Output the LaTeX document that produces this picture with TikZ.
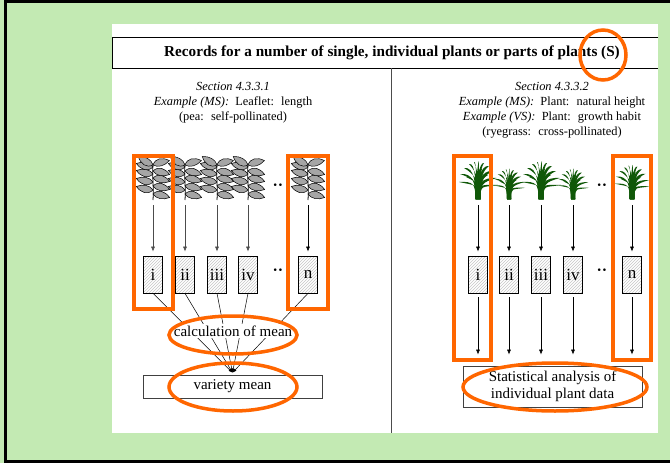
\documentclass[tikz,border=0pt]{standalone}
\usepackage{fontspec}
\setmainfont{Liberation Serif}
\usetikzlibrary{arrows.meta,patterns}
\definecolor{bggreen}{RGB}{195,234,179}
\definecolor{hiorange}{RGB}{255,102,0}
\definecolor{grassgreen}{RGB}{16,88,8}
\definecolor{peagray}{RGB}{165,165,165}
\tikzset{
  leaf/.pic={\draw[fill=peagray, line width=0.5pt] (0,0) .. controls (4,-6) and (11,-5.5) .. (17,0) .. controls (11,4) and (4,4) .. (0,0) -- cycle;},
  pea/.pic={
    \draw[line width=0.8pt] (0,0) .. controls (1,-12) and (-1,-24) .. (0,-36);
    \foreach \yy in {-10,-18,-26,-33} {
      \pic[rotate=168] at (0,\yy) {leaf};
      \pic[rotate=-12] at (0,\yy+4) {leaf};
    }
    \pic[rotate=150] at (0,-35) {leaf};
    \pic[rotate=15] at (0,-35) {leaf};
  },
  grass/.pic={
    \foreach \tx/\ty in {-19/-17,-18/-25,-14/-31,-9/-35,-4/-37,1/-38,6/-36,11/-33,15/-28,19/-21,20/-14,-12/-22,10/-24,-2/-28,4/-30} {
      \fill[grassgreen] (-2.5,0) .. controls (-2.5,-15) and (\tx*0.25,\ty*1.05) .. (\tx,\ty)
        .. controls (\tx*0.2,\ty*0.8) and (2.5,-15) .. (2.5,0) -- cycle;
    }
  },
  hbox/.style={draw, line width=0.7pt, preaction={fill=white}, pattern=north east lines, pattern color=gray!45,
    minimum width=19pt, minimum height=37pt, inner sep=0pt, font=\fontsize{17}{17}\selectfont},
  arr/.style={-{Latex[length=5pt,width=4pt]}, line width=0.6pt},
  conv/.style={-{Latex[length=4pt,width=3pt]}, line width=0.5pt},
  hirect/.style={draw=hiorange, line width=4pt},
  hiell/.style={draw=hiorange, line width=3.5pt},
  bodytext/.style={font=\fontsize{12.4}{15}\selectfont, align=center, inner sep=0pt},
  bigtext/.style={font=\fontsize{15}{17}\selectfont, align=center},
  dotstext/.style={font=\fontsize{16}{16}\selectfont\bfseries, inner sep=0pt}
}
\begin{document}
\begin{tikzpicture}[x=1pt,y=-1pt]
\useasboundingbox (0,0) rectangle (670,463);
\fill[bggreen] (0,0) rectangle (670,463);
\draw[line width=3pt] (673,1.5) -- (5,1.5) -- (5,461.5) -- (673,461.5);
\fill[white] (112,24) rectangle (658,433);
% title box
\draw[line width=1pt] (658,37) -- (112,37) -- (112,68) -- (658,68);
\node[font=\fontsize{15.2}{17}\selectfont\bfseries, inner sep=0pt] (title) at (392,53) {Records for a number of single, individual plants or parts of plants (S)};
\draw[line width=1pt, black!70] (391,68) -- (391,433);
% section texts
\node[bodytext] (secL) at (233,103) {\textit{Section 4.3.3.1}\\ \textit{Example (MS):}~ Leaflet:~ length\\ (pea:~ self-pollinated)};
\node[bodytext] (secR) at (552,110.5) {\textit{Section 4.3.3.2}\\ \textit{Example (MS):}~ Plant:~ natural height\\ \textit{Example (VS):}~ Plant:~ growth habit\\ (ryegrass:~ cross-pollinated)};
% left plants
\foreach \n/\x in {1/153,2/185,3/217,4/248,5/308} {
  \pic at (\x,200) {pea};
  \coordinate (tL\n) at (\x,205);
}
\node[dotstext] (dL1) at (278,187) {··};
% left boxes
\node[hbox] (bL1) at (153,274.5) {i};
\node[hbox] (bL2) at (185,274.5) {ii};
\node[hbox] (bL3) at (217,274.5) {iii};
\node[hbox] (bL4) at (248,274.5) {iv};
\node[hbox] (bL5) at (308,274.5) {n};
\node[dotstext] (dL2) at (278,272) {··};
\foreach \n in {1,2,3,4} { \draw[arr, black!70] (tL\n) -- ([yshift=4pt]bL\n.north); }
\draw[arr] (tL5) -- ([yshift=4pt]bL5.north);
% variety mean
\node[draw, line width=0.7pt, black!75, text=black, minimum width=179pt, minimum height=23pt, bigtext] (vm) at (232.5,386.5) {variety mean};
\foreach \n in {1,2,3,4,5} { \draw[conv] (bL\n.south) -- ([yshift=2pt]vm.north); }
\node[bigtext, fill=white, inner sep=1.5pt] (calc) at (233,331) {calculation of mean};
% right plants
\foreach \n/\x/\s in {1/478/1.0,2/509/0.8,3/541/1.0,4/573/0.8,5/632/0.9} {
  \pic[scale=\s] at (\x,199) {grass};
  \coordinate (tR\n) at (\x,205);
}
\node[dotstext] (dR1) at (602,187) {··};
\node[hbox] (bR1) at (478,274.5) {i};
\node[hbox] (bR2) at (509,274.5) {ii};
\node[hbox] (bR3) at (541,274.5) {iii};
\node[hbox] (bR4) at (573,274.5) {iv};
\node[hbox] (bR5) at (632,274.5) {n};
\node[dotstext] (dR2) at (602,272) {··};
\node[draw, line width=0.7pt, black!75, text=black, minimum width=179pt, minimum height=41pt, bigtext, inner sep=1pt] (stat) at (552.5,386.5) {Statistical analysis of\\individual plant data};
\foreach \n in {1,...,5} {
  \draw[arr] (tR\n) -- ([yshift=4pt]bR\n.north);
  \draw[arr, shorten <=4pt, shorten >=11pt] (bR\n.south) -- (bR\n.south |- stat.north);
}
% orange highlights
\draw[hirect] (134,156) rectangle (173,309);
\draw[hirect] (288,156) rectangle (328,309);
\draw[hirect] (454,156) rectangle (491,360);
\draw[hirect] (613,156) rectangle (651,360);
\draw[hiell] (233,335) ellipse [x radius=64pt, y radius=19pt];
\draw[hiell] (233,387) ellipse [x radius=64pt, y radius=24pt];
\draw[hiell] (555,387) ellipse [x radius=92pt, y radius=24pt];
\draw[hiell] (603,55) ellipse [x radius=23pt, y radius=25pt];
\end{tikzpicture}
\end{document}
